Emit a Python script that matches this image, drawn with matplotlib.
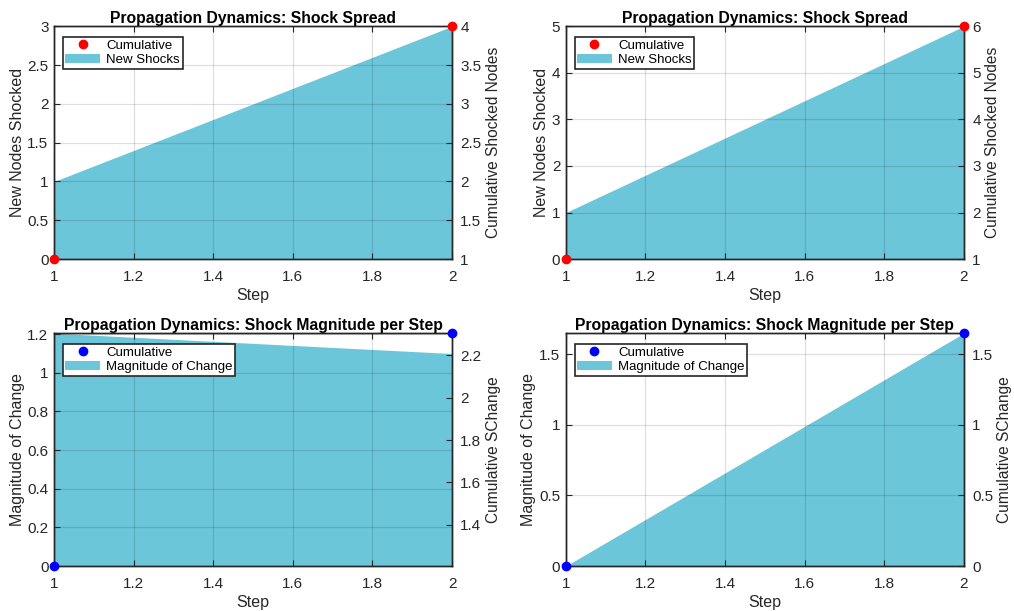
import matplotlib
matplotlib.use("Agg")
import matplotlib.pyplot as plt
from matplotlib.patches import Patch
from matplotlib.lines import Line2D

plt.rcParams['font.family'] = ['Liberation Sans', 'DejaVu Sans']

steps = [1, 2]

# shock spread, two runs
new_shocks_a = [1, 3]
cum_nodes_a = [1, 4]
new_shocks_b = [1, 5]
cum_nodes_b = [1, 6]

# shock magnitude, two runs
magnitude_a = [1.205, 1.1]
cum_change_a = [1.205, 2.305]
magnitude_b = [0.0, 1.65]
cum_change_b = [0.0, 1.65]

fill_color = '#6cc6da'
edge_color = '#262626'


def draw_panel(rect, x, area, cum, title, ylab, ylab2, area_label, dot_color,
               yticks, yticks2):
    ax = fig.add_axes(rect)
    ax.fill_between(x, 0, area, color=fill_color, linewidth=0, zorder=1)
    ax.set_xlim(x[0], x[-1])
    ax.set_ylim(0, max(area))
    ax.set_xticks([1, 1.2, 1.4, 1.6, 1.8, 2])
    ax.set_xticklabels(['1', '1.2', '1.4', '1.6', '1.8', '2'])
    ax.set_yticks(yticks)
    ax.set_yticklabels([f'{v:g}' for v in yticks])
    ax.grid(True, color='black', alpha=0.13, linewidth=0.9, zorder=2)
    ax.set_axisbelow(False)
    ax.tick_params(direction='in', length=4, width=0.8, labelsize=11,
                   top=True, colors=edge_color, pad=4)
    ax.tick_params(axis='x', pad=8)
    for s in ax.spines.values():
        s.set_color(edge_color)
        s.set_linewidth(1.0)
    ax.set_xlabel('Step', fontsize=11.5, color=edge_color, labelpad=3)
    ax.set_ylabel(ylab, fontsize=11.5, color=edge_color, labelpad=2)
    ax.set_title(title, fontsize=11.3, fontweight='bold', color='black', pad=2)

    ax2 = ax.twinx()
    ax2.plot(x, cum, 'o', color=dot_color, markersize=6, clip_on=False,
             zorder=5)
    ax2.set_ylim(min(cum), max(cum))
    ax2.set_yticks(yticks2)
    ax2.set_yticklabels([f'{v:g}' for v in yticks2])
    ax2.tick_params(direction='in', length=4, width=0.8, labelsize=11,
                    colors=edge_color, pad=6)
    for s in ax2.spines.values():
        s.set_color(edge_color)
        s.set_linewidth(1.0)
    ax2.set_ylabel(ylab2, fontsize=11.2, color=edge_color, labelpad=3)

    handles = [Line2D([], [], marker='o', linestyle='none', color=dot_color,
                      markersize=6),
               Patch(facecolor=fill_color, edgecolor='none')]
    leg = ax2.legend(handles, ['Cumulative', area_label], loc='upper left',
                     bbox_to_anchor=(0.022, 0.955), fontsize=9.5, fancybox=False,
                     framealpha=1, edgecolor=edge_color, borderpad=0.2,
                     handlelength=2.6, handletextpad=0.5, labelspacing=0.2,
                     borderaxespad=0)
    leg.get_frame().set_linewidth(1.2)
    return ax, ax2


fig = plt.figure(figsize=(10.14, 6.11), dpi=100)

w, h = 0.3925, 0.381
draw_panel([0.0533, 0.576, w, h], steps, new_shocks_a, cum_nodes_a,
           'Propagation Dynamics: Shock Spread', 'New Nodes Shocked',
           'Cumulative Shocked Nodes', 'New Shocks', 'red',
           [0, 0.5, 1, 1.5, 2, 2.5, 3], [1, 1.5, 2, 2.5, 3, 3.5, 4])
draw_panel([0.558, 0.576, w, h], steps, new_shocks_b, cum_nodes_b,
           'Propagation Dynamics: Shock Spread', 'New Nodes Shocked',
           'Cumulative Shocked Nodes', 'New Shocks', 'red',
           [0, 1, 2, 3, 4, 5], [1, 2, 3, 4, 5, 6])
draw_panel([0.0533, 0.0736, w, h], steps, magnitude_a, cum_change_a,
           'Propagation Dynamics: Shock Magnitude per Step',
           'Magnitude of Change', 'Cumulative SChange', 'Magnitude of Change',
           'blue', [0, 0.2, 0.4, 0.6, 0.8, 1, 1.2], [1.4, 1.6, 1.8, 2, 2.2])
draw_panel([0.558, 0.0736, w, h], steps, magnitude_b, cum_change_b,
           'Propagation Dynamics: Shock Magnitude per Step',
           'Magnitude of Change', 'Cumulative SChange', 'Magnitude of Change',
           'blue', [0, 0.5, 1, 1.5], [0, 0.5, 1, 1.5])

fig.savefig('out.png', dpi=100)
